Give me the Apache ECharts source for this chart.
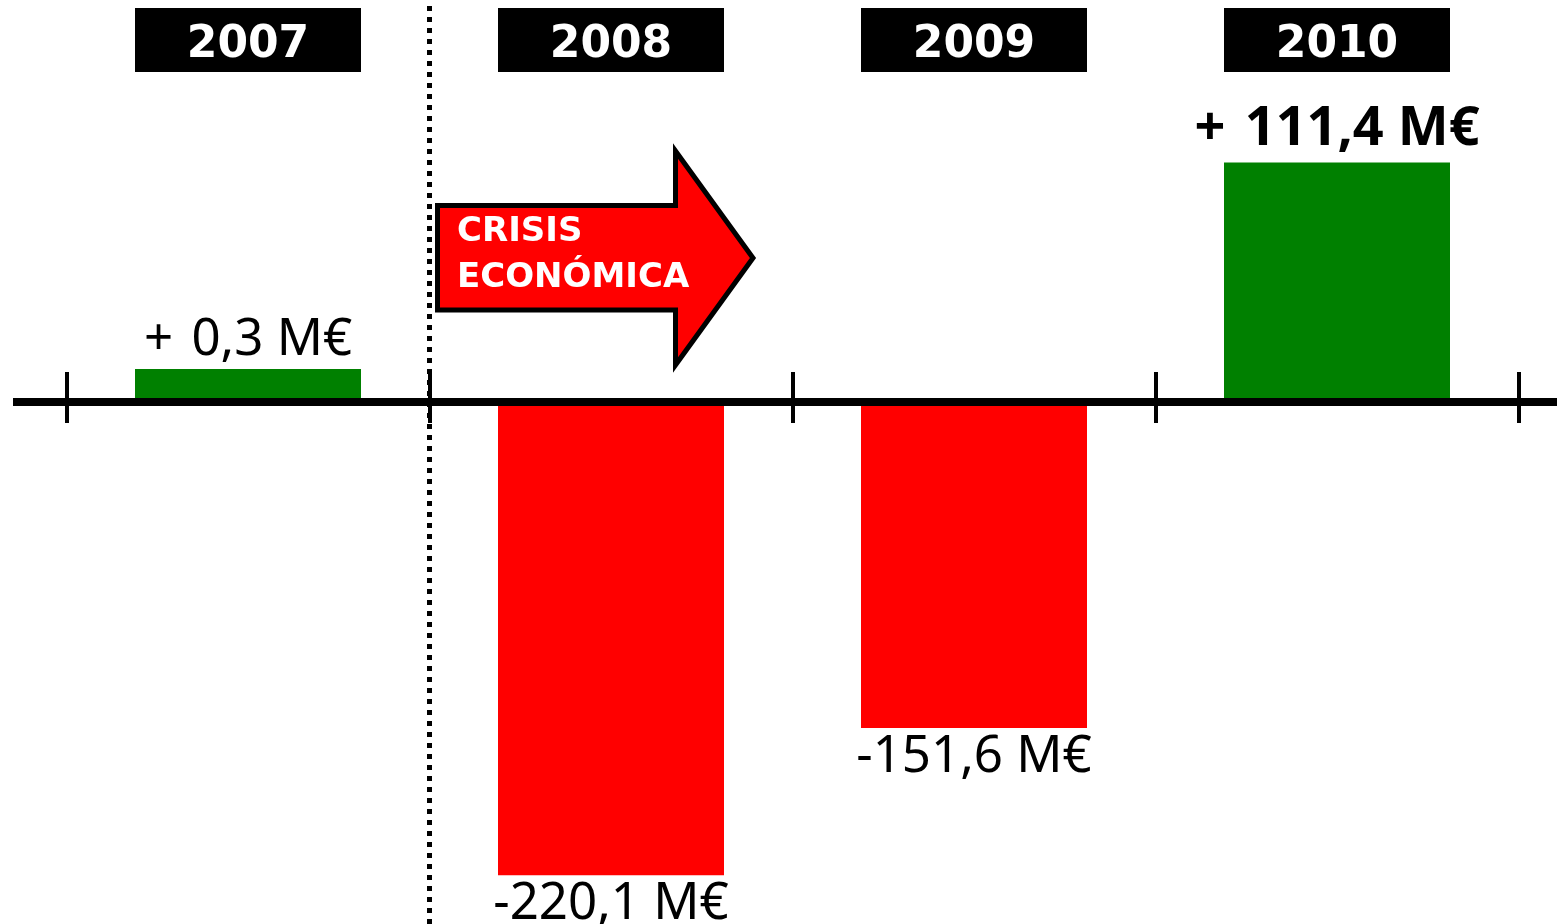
<!DOCTYPE html>
<html><head><meta charset="utf-8">
<script src="https://cdn.jsdelivr.net/npm/echarts@6/dist/echarts.min.js"></script>
<style>html,body{margin:0;padding:0;background:#fff}#c{width:1557px;height:924px}</style>
</head><body><div id="c"></div>
<script>
// ---- data ----
const years = ['2007', '2008', '2009', '2010'];
const results = [0.3, -220.1, -151.6, 111.4];   // M€
const emphasisedYears = ['2010'];
const crisisLines = ['CRISIS', 'ECONÓMICA'];
const crisisStartYear = '2008';

// ---- layout constants ----
const gridLeft = 66.5, gridRight = 38.5;

const chart = echarts.init(document.getElementById('c'), null, {renderer: 'canvas'});

function fmt(v) {
  const s = Math.abs(v).toFixed(1).replace('.', ',');
  return (v > 0 ? '+ \u200A' : '-') + s + ' M€';
}

const barData = results.map((v, i) => {
  const bold = emphasisedYears.includes(years[i]);
  return {
    value: v,
    itemStyle: {color: v >= 0 ? '#008000' : '#ff0000'},
    label: {
      position: v >= 0 ? 'top' : 'bottom',
      fontWeight: bold ? 'bold' : 'normal',
      fontSize: bold ? 54 : 51,
      distance: bold ? 6 : (v < 0 ? 4 : 3)
    }
  };
});

const option = {
  animation: false,
  backgroundColor: '#fff',
  grid: {left: gridLeft, right: gridRight, top: 58, bottom: 6, containLabel: false},
  xAxis: [
    {
      type: 'category', data: years, position: 'bottom', z: 10,
      axisLine: {show: true, onZero: true, onZeroAxisIndex: 0, lineStyle: {color: '#000', width: 8}},
      axisTick: {show: true, inside: true, length: 30, lineStyle: {color: '#000', width: 4}},
      axisLabel: {show: false}, splitLine: {show: false}
    },
    {
      type: 'category', data: years, position: 'bottom', z: 10,
      axisLine: {show: false, onZero: true, onZeroAxisIndex: 0},
      axisTick: {show: true, inside: false, length: 21, lineStyle: {color: '#000', width: 4}},
      axisLabel: {show: false}, splitLine: {show: false}
    },
    {   // black year boxes
      type: 'category', data: years, position: 'top', z: 3,
      axisLine: {show: false, onZero: false}, axisTick: {show: false}, splitLine: {show: false},
      axisLabel: {
        show: true, margin: 18, verticalAlign: 'middle', align: 'center',
        formatter: () => ' ',
        backgroundColor: '#000', width: 226, height: 64, lineHeight: 64, fontSize: 20
      }
    },
    {   // year texts
      type: 'category', data: years, position: 'top', z: 4,
      axisLine: {show: false, onZero: false}, axisTick: {show: false}, splitLine: {show: false},
      axisLabel: {
        show: true, margin: 12, verticalAlign: 'middle', align: 'center',
        color: '#fff', fontFamily: 'DejaVu Sans', fontWeight: 'bold', fontSize: 44
      }
    }
  ],
  yAxis: {type: 'value', min: -240, max: 160, show: false},
  series: [{
    type: 'bar', xAxisIndex: 0, yAxisIndex: 0,
    data: barData, barWidth: 226, barMinHeight: 33,
    label: {show: true, formatter: p => fmt(p.value), color: '#000', fontFamily: 'Noto Sans'}
  }]
};
chart.setOption(option);

const xa = chart.convertToPixel({xAxisIndex: 0}, years[0]);
const xc = chart.convertToPixel({xAxisIndex: 0}, crisisStartYear);
const xb = (xa + xc) / 2;
const y0 = chart.convertToPixel({yAxisIndex: 0}, 0);

chart.setOption({
  graphic: [
    {type: 'line', z: 5, shape: {x1: xb, y1: 6, x2: xb, y2: 924},
      style: {stroke: '#000', lineWidth: 5, lineDash: [5, 6]}},
    {type: 'line', z: 20, shape: {x1: 13, y1: y0, x2: gridLeft + 1, y2: y0},
      style: {stroke: '#000', lineWidth: 8}},
    {type: 'line', z: 20, shape: {x1: 1557 - gridRight - 1, y1: y0, x2: 1557, y2: y0},
      style: {stroke: '#000', lineWidth: 8}},
    {type: 'polygon', z: 6,
      shape: {points: [[437.5, 205.5], [675.5, 205.5], [675.5, 151], [753, 258], [675.5, 365], [675.5, 310], [437.5, 310]]},
      style: {fill: '#ff0000', stroke: '#000', lineWidth: 5, lineJoin: 'miter'}},
    {type: 'text', z: 7, x: 457, y: 209,
      style: {text: crisisLines.join('\n'), fill: '#fff', fontFamily: 'DejaVu Sans', fontWeight: 'bold', fontSize: 34, lineHeight: 46}}
  ]
});
</script>
</body></html>
